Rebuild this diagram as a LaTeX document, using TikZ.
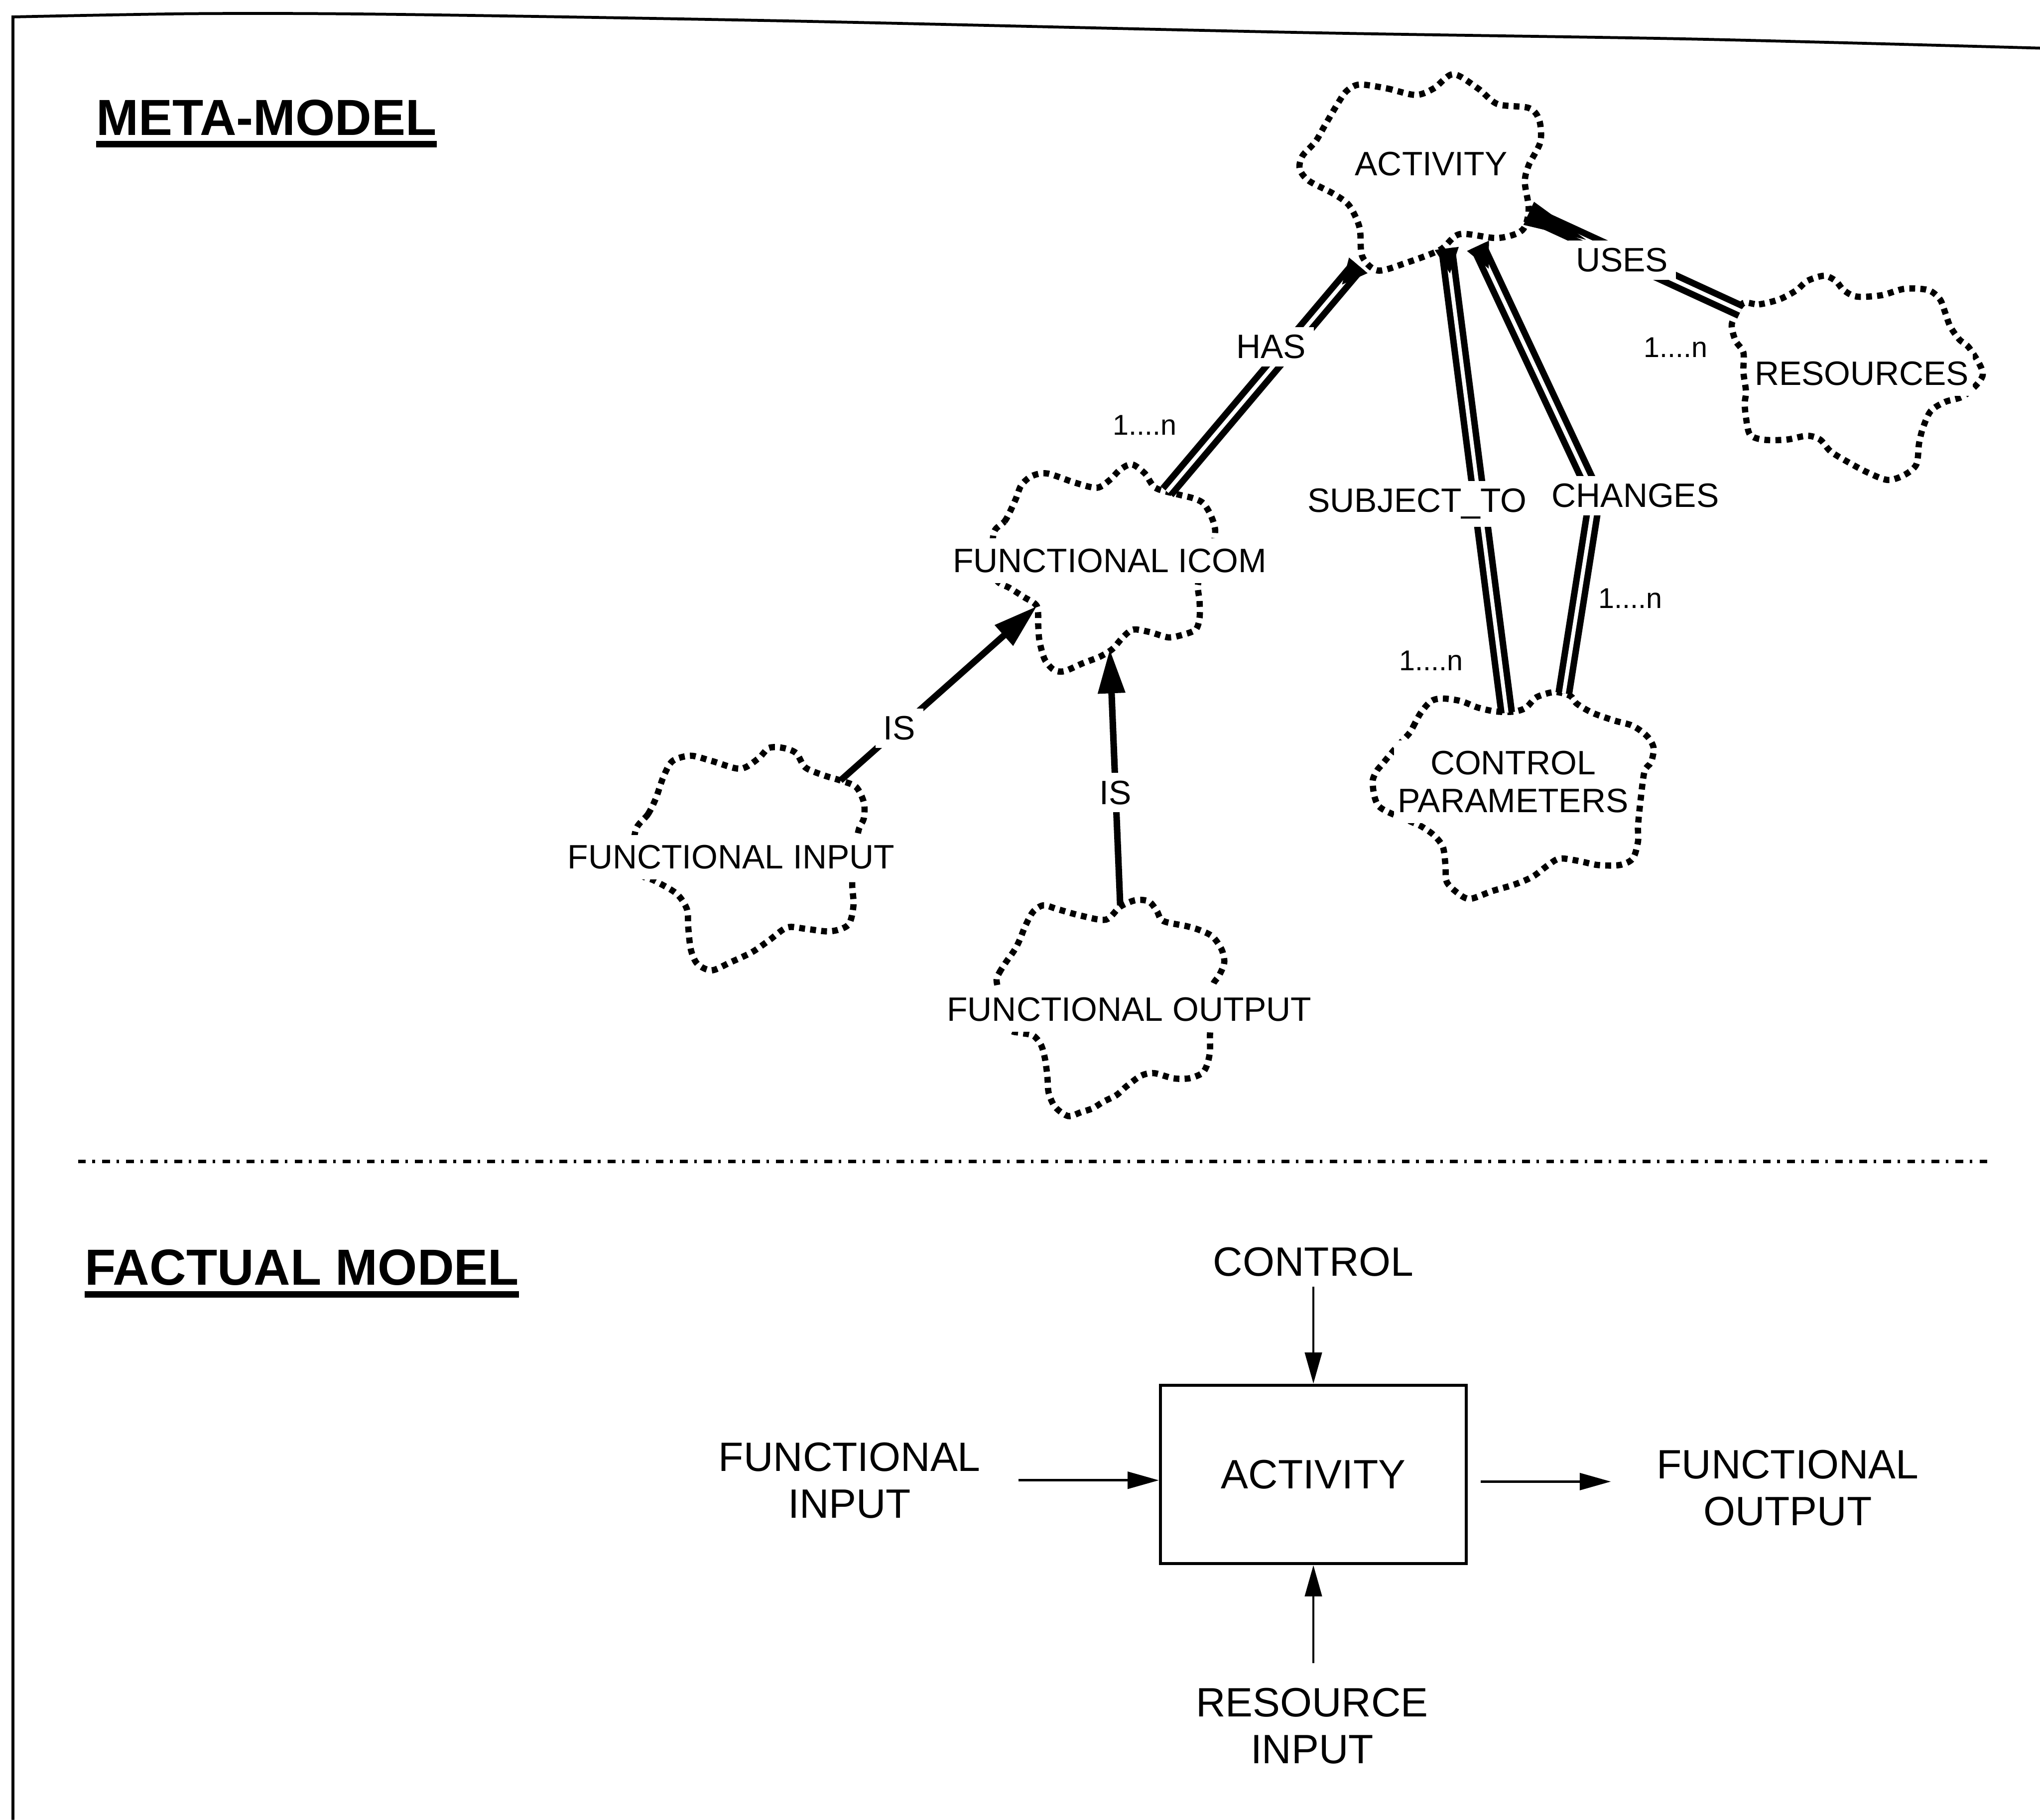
\documentclass[tikz,border=0pt]{standalone}
\usepackage{fontspec}
\setmainfont{Liberation Sans}
\usetikzlibrary{arrows.meta}

\begin{document}
\begin{tikzpicture}[x=1pt, y=-1pt,
  lbl/.style={font=\fontsize{26}{29}\selectfont, inner sep=2pt},
  cloudtext/.style={lbl, fill=white, inner xsep=3pt, inner ysep=8pt, align=center},
  rellabel/.style={lbl, fill=white, inner sep=6pt},
  card/.style={font=\fontsize{22}{24}\selectfont, inner sep=1pt},
  cloudline/.style={line width=4.8pt, dash pattern=on 4.5pt off 4pt},
  rel/.style={double, double distance=3pt, line width=5pt},
  blob/.style={{Triangle[reversed, length=20pt, width=17pt]}-},
  isarrow/.style={line width=5pt, -{Triangle[length=34pt, width=20pt]}},
  flow/.style={line width=1.8pt, -{Triangle[length=24pt, width=13pt]}},
  fact/.style={font=\fontsize{31.5}{36}\selectfont, align=center, inner sep=2pt},
  title/.style={font=\bfseries\fontsize{39}{44}\selectfont, inner sep=0pt, anchor=base west},
  uline/.style={line width=5pt},
  sepline/.style={line width=2.5pt, dash pattern=on 6pt off 5pt on 2pt off 5.5pt}]
\useasboundingbox (0,0) rectangle (1568,1399);

% frame
\draw[line width=2.2pt] plot[smooth] coordinates {(1568,37) (1300,30) (1000,25) (600,16) (300,11) (150,10.5) (10,13)} -- (10,1399);

% meta-model
\node[title] (meta) at (74,104) {META-MODEL};
\draw[uline] ([yshift=-7pt]meta.base west) -- ([yshift=-7pt]meta.base east);

\draw[cloudline] plot[smooth cycle, tension=0.5] coordinates {(1045,65) (1066,68) (1088,73) (1102,68) (1117,57) (1136,68) (1151,80) (1175,83) (1183,92) (1184,109) (1175,127) (1172,140) (1175,161) (1170,177) (1151,183) (1122,180) (1107,192) (1081,202) (1059,208) (1047,197) (1045,175) (1037,158) (1025,149) (1006,139) (999,130) (1001,120) (1011,109) (1018,97) (1028,80) (1035,70)};
\node[cloudtext] (act) at (1100,126) {ACTIVITY};

\draw[cloudline] plot[smooth cycle, tension=0.5] coordinates {(764,409) (772,401) (776,394) (781,383) (785,373) (793,366) (805,364) (826,371) (843,375) (853,369) (861,361) (870,357) (880,364) (888,375) (905,380) (917,383) (925,387) (931,397) (934,409) (930,430) (921,448) (922,462) (922,475) (919,484) (909,488) (898,490) (884,486) (871,484) (863,490) (855,499) (845,505) (832,510) (818,516) (810,515) (803,507) (799,493) (798,481) (797,466) (787,459) (776,452) (766,446) (763,428)};
\node[cloudtext] (icom) at (853,431) {FUNCTIONAL ICOM};

\draw[cloudline] plot[smooth cycle, tension=0.5] coordinates {(489,637) (498,626) (504,614) (510,597) (517,585) (531,581) (547,585) (569,591) (583,583) (591,575) (602,575) (612,579) (619,590) (633,596) (646,600) (658,605) (664,617) (664,629) (660,638) (656,660) (655,680) (656,696) (652,711) (638,716) (619,714) (605,713) (591,723) (578,732) (561,740) (547,746) (536,741) (531,730) (529,713) (528,699) (520,687) (503,677) (492,672) (487,655)};
\node[cloudtext] (fin) at (562,659) {FUNCTIONAL INPUT};

\draw[cloudline] plot[smooth cycle, tension=0.5] coordinates {(766,754) (768,748) (773,740) (780,730) (784,722) (788,712) (794,701) (802,696) (813,699) (831,704) (850,707) (861,697) (873,692) (883,693) (889,700) (894,708) (912,712) (922,715) (932,720) (939,730) (941,740) (937,750) (932,758) (931,777) (930,796) (930,808) (928,818) (924,825) (914,829) (902,829) (887,825) (877,827) (866,835) (858,842) (848,847) (840,852) (831,855) (821,858) (811,851) (806,840) (805,827) (803,813) (800,803) (794,796) (784,794) (776,791) (770,772)};
\node[cloudtext] (fout) at (868,776) {FUNCTIONAL OUTPUT};

\draw[cloudline] plot[smooth cycle, tension=0.5] coordinates {(1083,564) (1086,559) (1092,548) (1100,539) (1109,537) (1123,539) (1136,544) (1150,547) (1164,547) (1173,544) (1181,536) (1195,532) (1207,535) (1212,541) (1224,548) (1241,554) (1255,558) (1266,566) (1271,575) (1269,586) (1264,593) (1261,615) (1259,635) (1259,647) (1255,660) (1245,665) (1228,665) (1214,662) (1199,660) (1190,665) (1178,674) (1164,680) (1147,685) (1130,691) (1121,687) (1112,678) (1111,665) (1109,651) (1102,642) (1092,635) (1083,631) (1060,620) (1055,602) (1058,593) (1062,588) (1072,576)};
\node[cloudtext] (cpar) at (1163,601) {CONTROL\\PARAMETERS};

\draw[cloudline] plot[smooth cycle, tension=0.5] coordinates {(1340,233) (1352,234) (1368,230) (1381,223) (1389,216) (1402,212) (1411,216) (1417,223) (1427,228) (1446,227) (1464,222) (1482,223) (1491,230) (1495,240) (1499,251) (1506,261) (1514,268) (1524,288) (1510,304) (1495,309) (1484,316) (1478,329) (1475,341) (1473,357) (1464,365) (1451,369) (1435,363) (1420,355) (1407,347) (1399,338) (1389,335) (1373,338) (1355,338) (1345,334) (1342,321) (1341,310) (1342,301) (1340,286) (1340,271) (1334,262) (1331,251) (1333,244)};
\node[cloudtext] (res) at (1431,287) {RESOURCES};

\coordinate (act-has) at (1044,204);
\coordinate (act-sub) at (1112,191);
\coordinate (act-chg) at (1136,189);
\coordinate (act-uses) at (1175,164);
\coordinate (icom-has) at (897,378);
\coordinate (icom-in) at (797,466);
\coordinate (icom-out) at (853,499);
\coordinate (fin-is) at (646,600);
\coordinate (fout-is) at (861,696);
\coordinate (cpar-sub) at (1158,548);
\coordinate (cpar-chg) at (1202,533);
\coordinate (chg-bend) at (1226,381);
\coordinate (res-uses) at (1338,239);

\draw[rel, blob] (act-has) -- (icom-has) node[rellabel, pos=0.36, xshift=-14pt] {HAS};
\draw[rel, blob] (act-sub) -- (cpar-sub) node[rellabel, pos=0.55, xshift=-48pt] {SUBJECT\_TO};
\draw[rel, blob] (act-chg) -- (chg-bend) node[rellabel, xshift=31pt] {CHANGES} -- (cpar-chg);
\draw[rel, {Triangle[reversed, length=50pt, width=18pt]}-] (act-uses) -- (res-uses) node[rellabel, pos=0.44, yshift=-3pt] {USES};
\draw[isarrow] (fin-is) -- (icom-in) node[rellabel, pos=0.3] {IS};
\draw[isarrow] (fout-is) -- (icom-out) node[rellabel, pos=0.44] {IS};

\node[card] (n-has) at (880,327) {1....n};
\node[card] (n-uses) at (1288,267) {1....n};
\node[card] (n-sub) at (1100,508) {1....n};
\node[card] (n-chg) at (1253,460) {1....n};

\draw[sepline] (60,893) -- (1530,893);

% factual model
\node[title] (fact) at (65,988) {FACTUAL MODEL};
\draw[uline] ([yshift=-7pt]fact.base west) -- ([yshift=-7pt]fact.base east);

\node[draw, line width=2.5pt, minimum width=235pt, minimum height=137pt, fact] (box) at (1009.5,1133.5) {ACTIVITY};
\node[fact] (ctrl) at (1009.5,970) {CONTROL};
\node[fact] (input) at (653,1138) {FUNCTIONAL\\INPUT};
\node[fact] (output) at (1374,1144) {FUNCTIONAL\\OUTPUT};
\node[fact] (resin) at (1008.5,1327) {RESOURCE\\INPUT};

\draw[flow, shorten <=6pt] (ctrl.south) -- (box.north);
\draw[flow, shorten <=27pt] (input.east) -- (input.east -| box.west);
\draw[flow, shorten <=10pt, shorten >=33pt] ([yshift=5pt]output.west -| box.east) -- ([yshift=5pt]output.west);
\draw[flow, shorten <=17pt] (box.south |- resin.north) -- (box.south);
\end{tikzpicture}
\end{document}
